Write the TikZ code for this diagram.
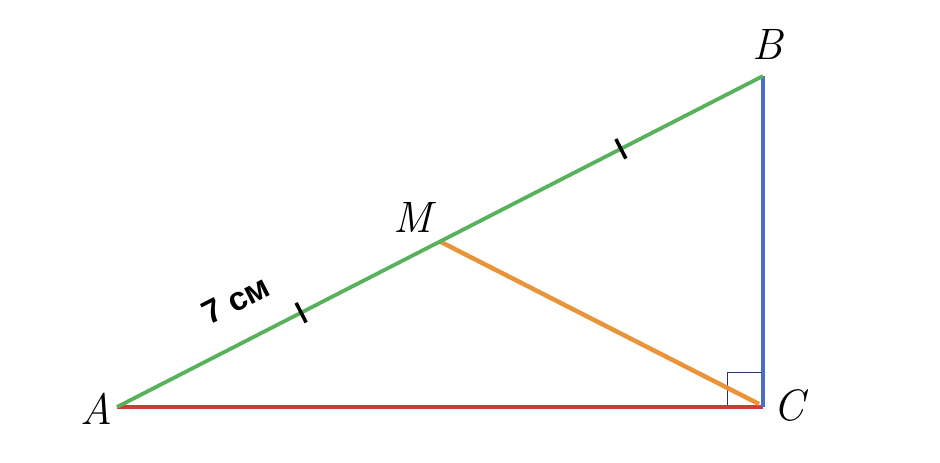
\documentclass[tikz,border=0pt]{standalone}
\usepackage{fontspec}
\newfontfamily\labelfont{Liberation Sans}
\usetikzlibrary{calc}

\definecolor{sidegreen}{RGB}{88,178,92}
\definecolor{sidered}{RGB}{208,58,52}
\definecolor{sideblue}{RGB}{70,112,196}
\definecolor{medorange}{RGB}{234,148,58}
\definecolor{anglenavy}{RGB}{40,50,110}

\tikzset{
    vertex/.style={font=\fontsize{44}{48}\selectfont\itshape},
    tickmark/.style={line width=3.5pt, black}
}

\begin{document}
\begin{tikzpicture}[x=1pt,y=-1pt]
    \useasboundingbox (0,0) rectangle (940,463);

    \coordinate (A) at (117,407);
    \coordinate (B) at (763,76);
    \coordinate (C) at (763,407);
    \coordinate (M) at ($(A)!0.5!(B)$);

    % right angle at C
    \draw[anglenavy, line width=1pt] ($(C)+(-36,0)$) -- ($(C)+(-36,-35)$) -- ($(C)+(0,-35)$);

    \draw[sidered, line width=4pt] (A) -- (C);
    \draw[sideblue, line width=3.8pt] (C) -- (B);
    \draw[medorange, line width=4.5pt] (M) -- ($(C)+(-4,-3)$);
    \draw[sidegreen, line width=3.8pt] (A) -- (B);

    % equal parts
    \path (A) -- (B) coordinate[pos=0.285] (t1) coordinate[pos=0.78] (t2);
    \draw[tickmark] ($(t1)!11pt!90:(B)$) -- ($(t1)!11pt!-90:(B)$);
    \draw[tickmark] ($(t2)!11pt!90:(B)$) -- ($(t2)!11pt!-90:(B)$);

    \node[rotate=27, font=\labelfont\bfseries\fontsize{33}{36}\selectfont] (len) at (236,300) {7 см};

    \node[vertex] (labA) at (96,409) {A};
    \node[vertex] (labB) at (768,44) {B};
    \node[vertex] (labC) at (789,405) {C};
    \node[vertex] (labM) at (413,217) {M};
\end{tikzpicture}
\end{document}
